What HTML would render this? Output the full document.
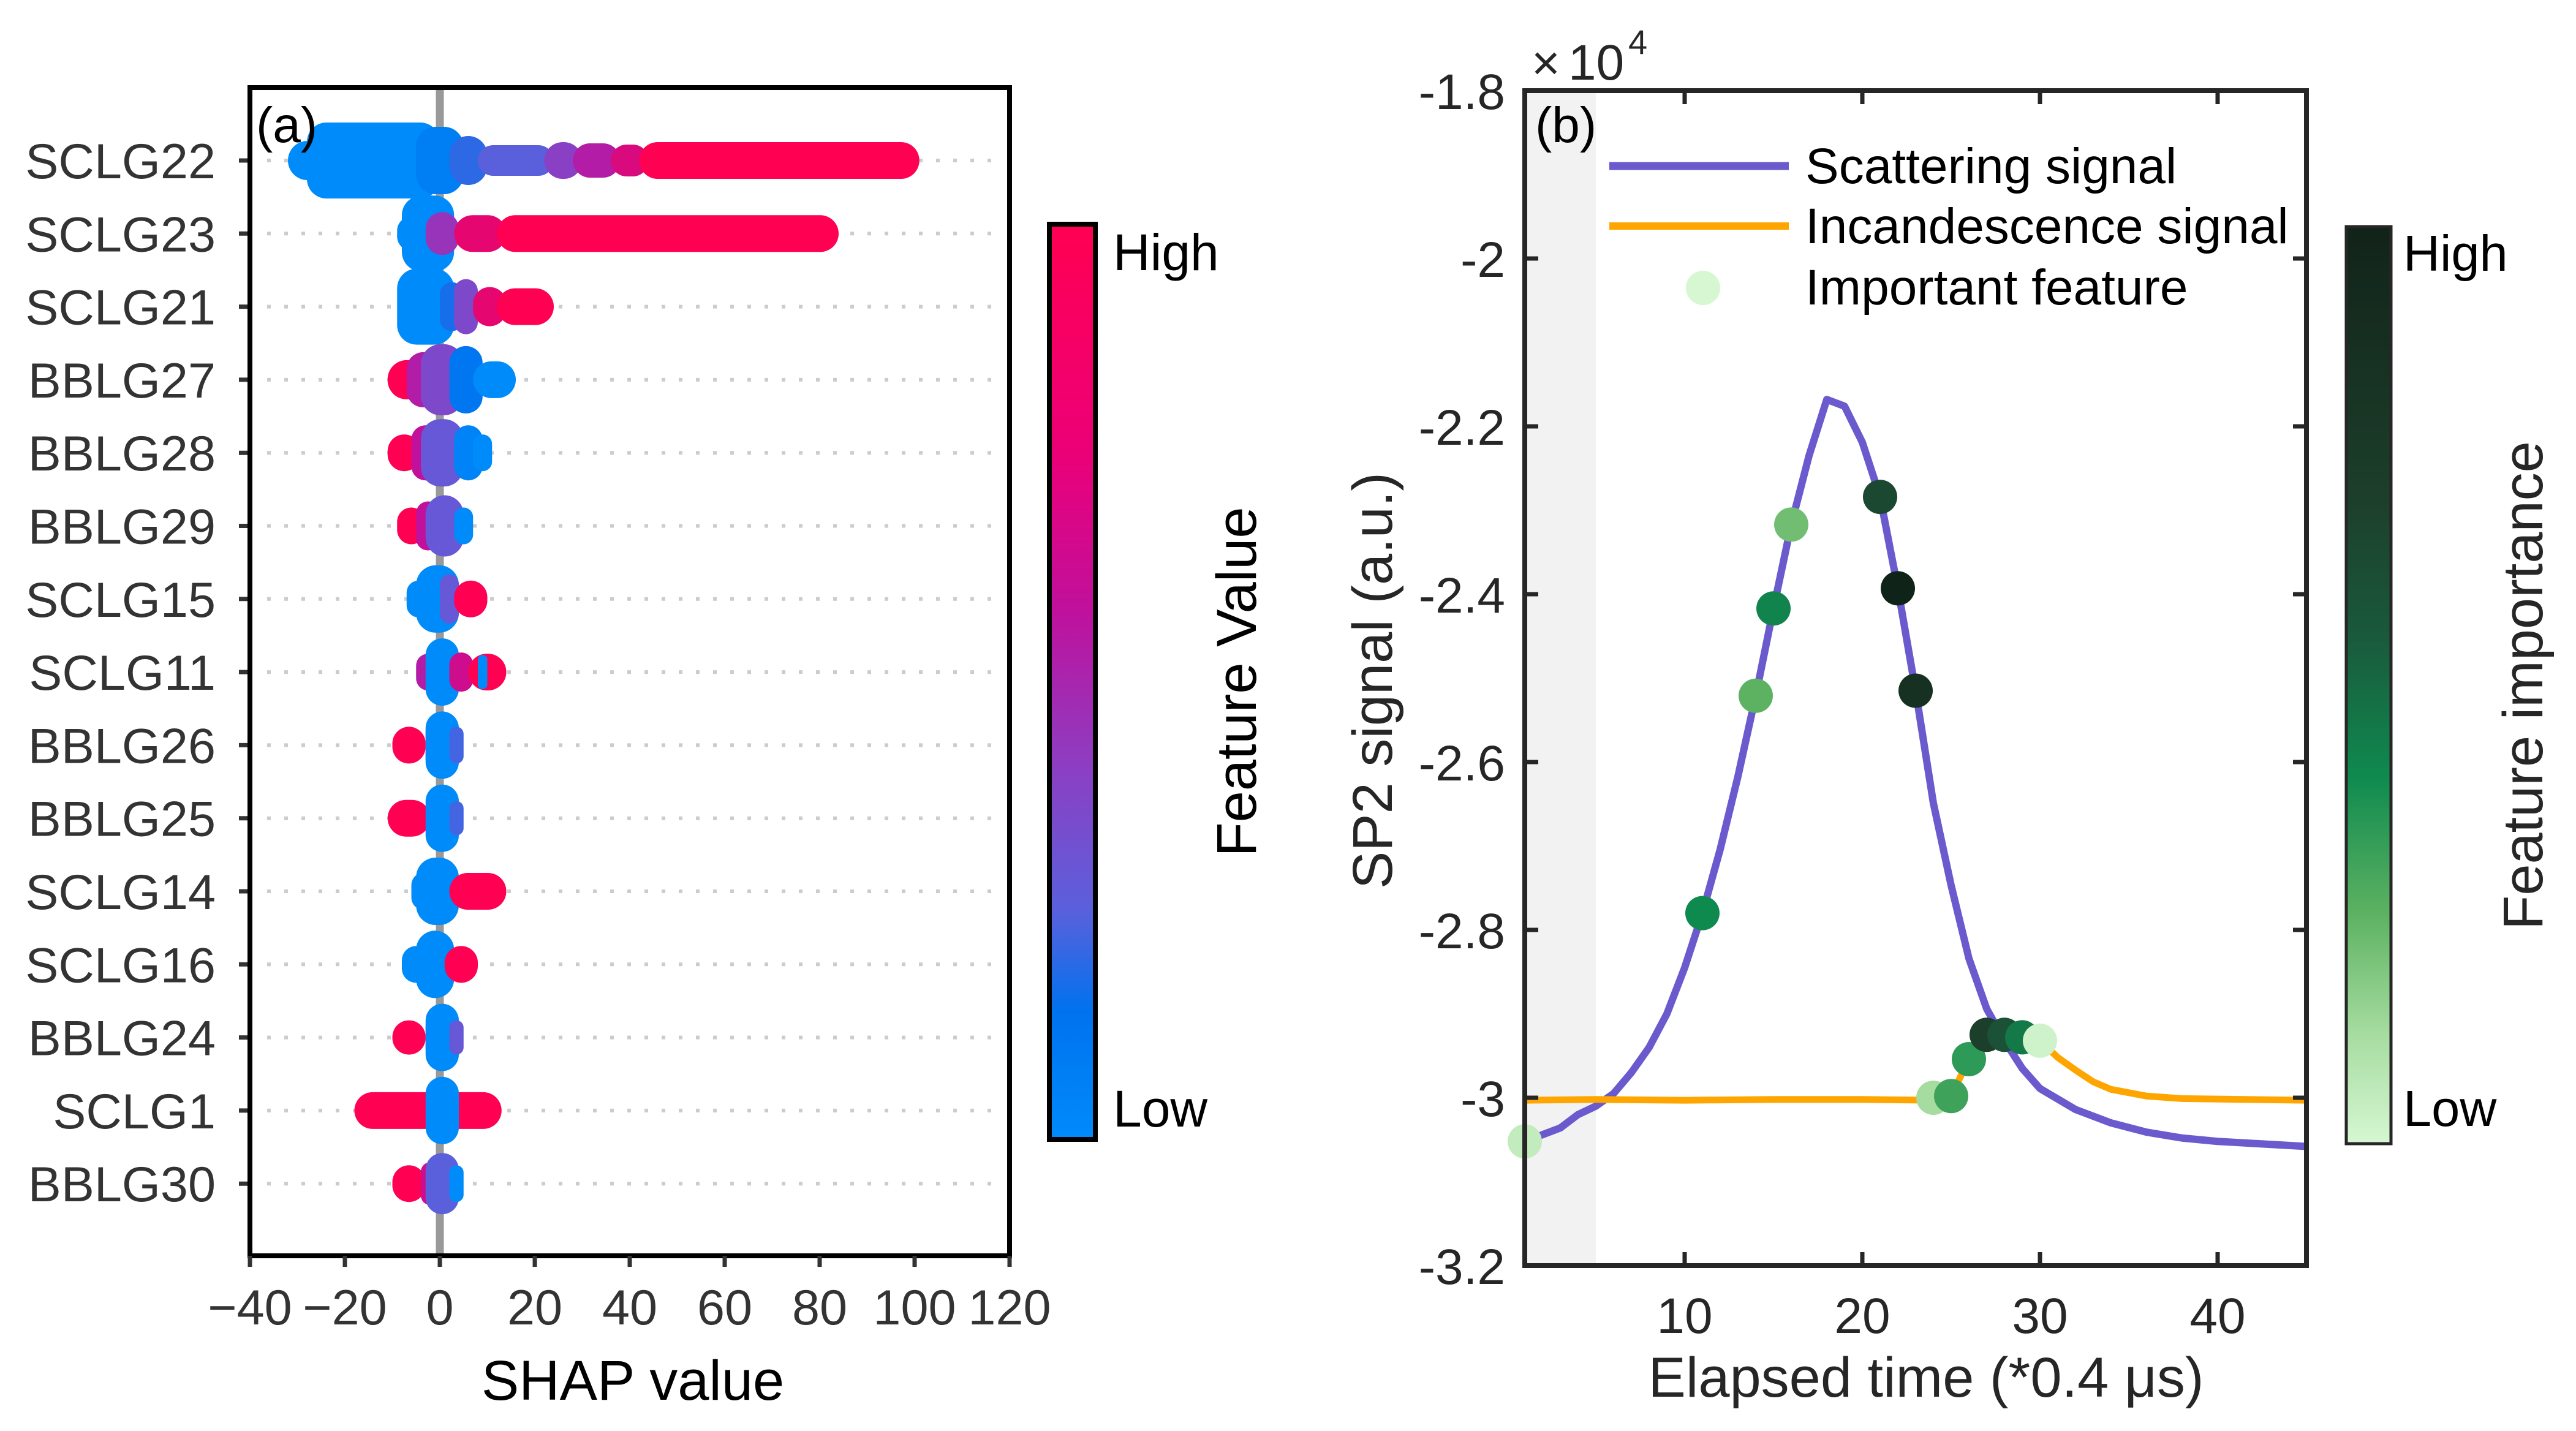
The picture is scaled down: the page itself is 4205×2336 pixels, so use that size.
<!DOCTYPE html>
<html><head><meta charset="utf-8"><style>
html,body{margin:0;padding:0;background:#fff;}
svg{display:block;}
text{font-family:"Liberation Sans",sans-serif;}
</style></head><body>
<svg id="fig" xmlns="http://www.w3.org/2000/svg" width="4205" height="2336" viewBox="0 0 4205 2336">
<defs>
<linearGradient id="gA" x1="0" y1="0" x2="0" y2="1">
<stop offset="0" stop-color="#ff0052"/><stop offset="0.25" stop-color="#ec0078"/><stop offset="0.42" stop-color="#c0109c"/><stop offset="0.6" stop-color="#8a40c4"/><stop offset="0.75" stop-color="#5a60dc"/><stop offset="0.86" stop-color="#0072ee"/><stop offset="1" stop-color="#008bfb"/>
</linearGradient>
<linearGradient id="gB" x1="0" y1="0" x2="0" y2="1">
<stop offset="0" stop-color="#122319"/><stop offset="0.3" stop-color="#1c3f2b"/><stop offset="0.45" stop-color="#1a5a3c"/><stop offset="0.6" stop-color="#0f8a4f"/><stop offset="0.75" stop-color="#5db262"/><stop offset="0.88" stop-color="#a6dca0"/><stop offset="1" stop-color="#d6f7d2"/>
</linearGradient>
</defs>
<g id="pa"></g>
<g id="pb"></g>
</svg>
<script>
// ---------- Panel (a) data ----------
const features = ["SCLG22","SCLG23","SCLG21","BBLG27","BBLG28","BBLG29","SCLG15","SCLG11","BBLG26","BBLG25","SCLG14","SCLG16","BBLG24","SCLG1","BBLG30"];
const shapTicks = [-40,-20,0,20,40,60,80,100,120];
const shapTickLabels = ["\u221240","\u221220","0","20","40","60","80","100","120"];
// bands per feature: [shapLeftEdge, shapRightEdge, spread, featureValueLevel(0 low..1 high)]
const bands = [
 [[-32,-20,32,0],[-28,0,62,0],[-5,5,55,0.08],[2,10,40,0.25],[8,24,25,0.35],[22,30,30,0.55],[28,38,28,0.7],[36,44,26,0.85],[42,101,30,1]],
 [[-9,-3,28,0],[-8,3,62,0],[-3,4,35,0.6],[3,14,30,0.9],[12,84,30,1]],
 [[-9,3,62,0],[0,5,40,0.2],[3,8,45,0.5],[7,14,32,0.9],[12,24,30,1]],
 [[-11,-3,32,1],[-7,0,45,0.7],[-4,5,58,0.5],[2,9,55,0.12],[7,16,30,0]],
 [[-11,-4,30,1],[-6,0,45,0.75],[-4,5,55,0.4],[3,9,45,0.05],[7,11,30,0]],
 [[-9,-3,30,1],[-5,0,40,0.75],[-3,5,50,0.4],[3,7,30,0]],
 [[-7,-2,30,0],[-5,4,55,0],[0,4,40,0.4],[3,10,30,1]],
 [[-5,0,30,0.7],[-3,4,55,0],[2,7,32,0.8],[6,14,30,1],[8,10,28,0]],
 [[-10,-3,30,1],[-3,0,35,0.7],[-3,4,55,0],[2,5,30,0.3]],
 [[-11,-2,30,1],[-3,0,30,0.8],[-3,4,55,0],[2,5,28,0.3]],
 [[-6,-1,30,0],[-5,4,55,0],[2,14,30,1]],
 [[-8,-2,30,0],[-5,3,55,0],[1,8,30,1]],
 [[-10,-3,28,1],[-3,0,30,0.7],[-3,4,55,0],[2,5,28,0.4]],
 [[-18,13,30,1],[-3,4,55,0]],
 [[-10,-3,30,1],[-4,0,35,0.8],[-3,4,50,0.35],[2,5,30,0]]
];
// ---------- Panel (b) data ----------
const scatX = [1,3,4,5,6,7,8,9,10,11,12,13,14,15,16,17,18,19,20,21,22,23,24,25,26,27,28,29,30,32,34,36,38,40,45];
const scatY = [-3.052,-3.036,-3.02,-3.01,-2.995,-2.97,-2.94,-2.9,-2.845,-2.78,-2.704,-2.617,-2.521,-2.417,-2.317,-2.235,-2.168,-2.176,-2.219,-2.284,-2.393,-2.515,-2.649,-2.747,-2.834,-2.894,-2.932,-2.965,-2.989,-3.014,-3.03,-3.041,-3.048,-3.052,-3.058];
const incX = [1,5,10,15,20,24,25,26,27,28,29,30,31,32,33,34,36,38,45];
const incY = [-3.003,-3.002,-3.003,-3.002,-3.002,-3.003,-2.998,-2.954,-2.925,-2.922,-2.924,-2.932,-2.952,-2.967,-2.981,-2.99,-2.998,-3.001,-3.003];
const featX = [1,11,14,15,16,21,22,23,24,25,26,27,28,29,30];
const featY = [-3.052,-2.78,-2.521,-2.417,-2.317,-2.284,-2.393,-2.515,-3.0,-2.998,-2.954,-2.925,-2.925,-2.928,-2.932];
const featImp = [0.05,0.55,0.3,0.58,0.25,0.85,1.0,0.95,0.12,0.4,0.45,0.9,0.8,0.62,0.02];
const timeTicks = [10,20,30,40];
const sigTicks = [-1.8,-2,-2.2,-2.4,-2.6,-2.8,-3,-3.2];
const sigTickLabels = ["-1.8","-2","-2.2","-2.4","-2.6","-2.8","-3","-3.2"];

const NS="http://www.w3.org/2000/svg";
function mk(tag, attrs, parent, txt){const e=document.createElementNS(NS,tag);for(const k in attrs)e.setAttribute(k,attrs[k]);if(txt!==undefined)e.textContent=txt;parent.appendChild(e);return e;}
function lerp(a,b,t){return Math.round(a+(b-a)*t);}
function shapColor(t){
  const stops=[[0,[0,139,251]],[0.15,[0,114,238]],[0.35,[90,96,220]],[0.55,[138,64,196]],[0.75,[192,16,156]],[1,[255,0,82]]];
  for(let i=1;i<stops.length;i++){if(t<=stops[i][0]){const a=stops[i-1],b=stops[i];const u=(t-a[0])/(b[0]-a[0]);return `rgb(${lerp(a[1][0],b[1][0],u)},${lerp(a[1][1],b[1][1],u)},${lerp(a[1][2],b[1][2],u)})`;}}
  return "rgb(255,0,82)";
}
function greenColor(t){
  const stops=[[0,[214,247,210]],[0.12,[166,220,160]],[0.3,[93,178,98]],[0.55,[15,138,79]],[0.75,[26,90,60]],[0.9,[28,63,43]],[1,[15,35,24]]];
  for(let i=1;i<stops.length;i++){if(t<=stops[i][0]){const a=stops[i-1],b=stops[i];const u=(t-a[0])/(b[0]-a[0]);return `rgb(${lerp(a[1][0],b[1][0],u)},${lerp(a[1][1],b[1][1],u)},${lerp(a[1][2],b[1][2],u)})`;}}
  return "rgb(15,35,24)";
}

// ---------- Panel (a) ----------
const pa=document.getElementById('pa');
const A={l:408,r:1648,t:143,b:2050};
const xa=v=>718+(v)*7.75;
const rowY=i=>262+i*119.3;
const zl=mk('line',{x1:xa(0),x2:xa(0),y1:A.t,y2:A.b,stroke:'#999',"stroke-width":13},pa);


features.forEach((f,i)=>{
  const y=rowY(i);
  const gl=mk('line',{x1:A.l+28,x2:A.r-10,y1:y,y2:y,stroke:'#ccc',"stroke-width":6,"stroke-dasharray":"6 22"},pa);
  
  
  const tk=mk('line',{x1:A.l-18,x2:A.l,y1:y,y2:y,stroke:'#333',"stroke-width":7},pa);
  
  
  const lb=mk('text',{x:352,y:y+29,"text-anchor":"end","font-size":81,fill:'#333'},pa,f);
  
  
});
features.forEach((f,i)=>{
  const y=rowY(i);
  const g=mk('g',{},pa);
  
  
  bands[i].forEach(bd=>{
    const x0=xa(bd[0]), x1=xa(bd[1]), w=x1-x0;
    const r=Math.min(32,bd[2],w/2);
    const s=mk('rect',{x:x0,y:y-bd[2],width:w,height:bd[2]*2,rx:r,ry:r,fill:shapColor(bd[3])},g);
    
    
  });
});
const fa=mk('rect',{x:A.l,y:A.t,width:A.r-A.l,height:A.b-A.t,fill:'none',stroke:'#000',"stroke-width":8},pa);


shapTicks.forEach((v,i)=>{
  const t=mk('line',{x1:xa(v),x2:xa(v),y1:A.b,y2:A.b+18,stroke:'#333',"stroke-width":7},pa);
  
  
  const l=mk('text',{x:xa(v),y:2162,"text-anchor":"middle","font-size":81,fill:'#333'},pa,shapTickLabels[i]);
  
  
});
</script>
<script>
(function(){
const pa=document.getElementById('pa');
function t(x,y,s,txt,name,extra){const e=document.createElementNS(NS,'text');e.setAttribute('x',x);e.setAttribute('y',y);e.setAttribute('font-size',s);for(const k in (extra||{}))e.setAttribute(k,extra[k]);e.textContent=txt;pa.appendChild(e);

return e;}
t(418,232,82,'(a)','panel-label-a');
t(1033,2285,92,'SHAP value','x-axis-title',{"text-anchor":"middle"});
const cb=document.createElementNS(NS,'rect');
cb.setAttribute('x',1713);cb.setAttribute('y',366);cb.setAttribute('width',75);cb.setAttribute('height',1494);cb.setAttribute('fill','url(#gA)');cb.setAttribute('stroke','#000');cb.setAttribute('stroke-width',8);


pa.appendChild(cb);
t(1817,441,84,'High','colorbar-high-label');
t(1817,1839,84,'Low','colorbar-low-label');
t(2050,1113,92,'Feature Value','colorbar-title',{"text-anchor":"middle",transform:"rotate(-90 2050 1113)"});
})();
</script>
<script>
(function(){
const pb=document.getElementById('pb');
const B={l:2489,r:3765,t:148,b:2066};
const xb=v=>2489+(v-1)*(B.r-B.l)/44;
const yb=v=>148+(-1.8-v)*1370;
const sh=mk('rect',{x:xb(1),y:B.t,width:xb(5)-xb(1),height:B.b-B.t,fill:'#f2f2f2'},pb);


const ps=scatX.map((x,i)=>xb(x)+','+yb(scatY[i])).join(' ');
const sl=mk('polyline',{points:ps,fill:'none',stroke:'#6a5acd',"stroke-width":12,"stroke-linejoin":"round"},pb);


const pi=incX.map((x,i)=>xb(x)+','+yb(incY[i])).join(' ');
const il=mk('polyline',{points:pi,fill:'none',stroke:'#ffa500',"stroke-width":11,"stroke-linejoin":"round"},pb);


featX.forEach((x,i)=>{
  const c=mk('ellipse',{cx:xb(x),cy:yb(featY[i]),rx:28,ry:28,fill:greenColor(featImp[i])},pb);
  
  
});
const fr=mk('rect',{x:B.l,y:B.t,width:B.r-B.l,height:B.b-B.t,fill:'none',stroke:'#262626',"stroke-width":8},pb);


timeTicks.forEach(v=>{
  const a=mk('line',{x1:xb(v),x2:xb(v),y1:B.b,y2:B.b-22,stroke:'#262626',"stroke-width":7},pb);
  
  
  const b=mk('line',{x1:xb(v),x2:xb(v),y1:B.t,y2:B.t+22,stroke:'#262626',"stroke-width":7},pb);
  
  
  const l=mk('text',{x:xb(v),y:2176,"text-anchor":"middle","font-size":82,fill:'#262626'},pb,String(v));
  
  
});
sigTicks.forEach((v,i)=>{
  const a=mk('line',{x1:B.l,x2:B.l+22,y1:yb(v),y2:yb(v),stroke:'#262626',"stroke-width":7},pb);
  
  
  const b=mk('line',{x1:B.r,x2:B.r-22,y1:yb(v),y2:yb(v),stroke:'#262626',"stroke-width":7},pb);
  
  
  const l=mk('text',{x:2457,y:yb(v)+30,"text-anchor":"end","font-size":82,fill:'#262626'},pb,sigTickLabels[i]);
  
  
});
function t(x,y,s,txt,name,extra){const e=mk('text',Object.assign({x:x,y:y,"font-size":s,fill:'#000'},extra||{}),pb,txt);

return e;}
t(2500,130,80,'\u00d7','exponent-times',{fill:'#262626'});
t(2560,130,82,'10','exponent-base',{fill:'#262626'});
t(2658,88,56,'4','exponent-power',{fill:'#262626'});
t(2506,232,82,'(b)','panel-label-b');
const l1=mk('line',{x1:2627,x2:2920,y1:271,y2:271,stroke:'#6a5acd',"stroke-width":13},pb);


const l2=mk('line',{x1:2627,x2:2920,y1:369,y2:369,stroke:'#ffa500',"stroke-width":12},pb);


const l3=mk('ellipse',{cx:2780,cy:470,rx:28,ry:28,fill:'#d6f7d2'},pb);


t(2947,299,82,'Scattering signal','legend-scattering-label');
t(2947,397,82,'Incandescence signal','legend-incandescence-label');
t(2947,497,82,'Important feature','legend-feature-label');
t(3144,2280,92,'Elapsed time (*0.4 \u03bcs)','x-axis-title',{"text-anchor":"middle",fill:'#262626'});
t(2272,1111,92,'SP2 signal (a.u.)','y-axis-title',{"text-anchor":"middle",fill:'#262626',transform:'rotate(-90 2272 1111)'});
const cb=mk('rect',{x:3830,y:370,width:73,height:1497,fill:'url(#gB)',stroke:'#262626',"stroke-width":5},pb);


t(3923,442,83,'High','colorbar-high-label');
t(3923,1838,83,'Low','colorbar-low-label');
t(4150,1119,92,'Feature importance','colorbar-title',{"text-anchor":"middle",fill:'#262626',transform:'rotate(-90 4150 1119)'});
})();
</script>
</body></html>
